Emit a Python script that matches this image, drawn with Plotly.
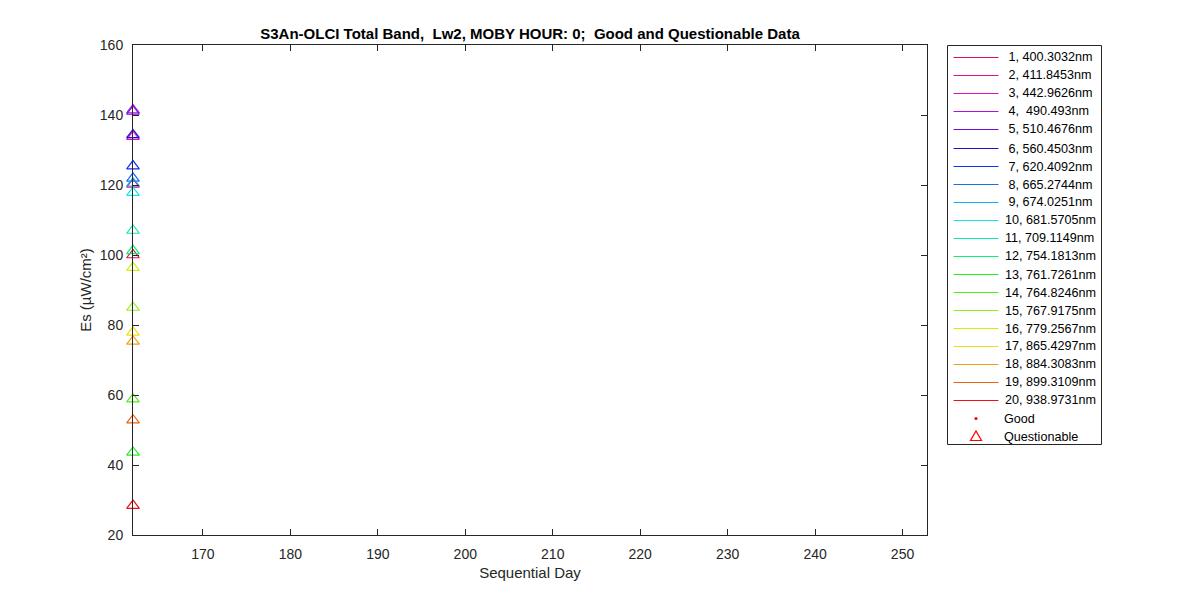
import plotly.graph_objects as go

bands = list(range(1, 21))
wavelengths = ["400.3032", "411.8453", "442.9626", " 490.493", "510.4676", "560.4503",
               "620.4092", "665.2744", "674.0251", "681.5705", "709.1149", "754.1813",
               "761.7261", "764.8246", "767.9175", "779.2567", "865.4297", "884.3083",
               "899.3109", "938.9731"]
es_values = [100.0, 120.2, 133.8, 141.4, 141.0, 134.3, 125.4, 121.9, 120.5, 117.8,
             107.0, 101.2, 43.6, 58.8, 85.0, 96.4, 77.9, 75.3, 52.8, 28.4]
band_colors = ["#E0105A", "#E01090", "#E010C8", "#B010E0", "#7010E0", "#2010D0",
               "#1030F0", "#1070F0", "#10B0F0", "#10E8E8", "#10E8B0", "#10F070",
               "#20F020", "#50F010", "#90F010", "#D0F010", "#F0E010", "#F0A010",
               "#F06010", "#F01010"]
day = 162.0
x_ticks = [170, 180, 190, 200, 210, 220, 230, 240, 250]
y_ticks = [20, 40, 60, 80, 100, 120, 140, 160]

FONT = "Liberation Sans, Arial, sans-serif"
AX = "#262626"
NB = "\u00a0"

# figure geometry (pixels)
W, H = 1200, 600
ML, MR, MT, MB = 125, 281, 37, 73
PL, PR, PT, PB = ML, W - MR, MT, H - MB


def px(x):
    return (x - PL) / (PR - PL)


def py(y):
    return (PB - y) / (PB - PT)


labels = [f"{b:2d}, {wl}nm".replace(" ", NB) for b, wl in zip(bands, wavelengths)]

fig = go.Figure()

# Questionable data points, one per band
for b, lab, v, c in zip(bands, labels, es_values, band_colors):
    fig.add_trace(go.Scatter(
        x=[day], y=[v], mode="markers", name=lab,
        marker=dict(symbol="triangle-up-open", size=11, color=c, line=dict(width=1.2)),
        showlegend=False, cliponaxis=False,
    ))

# ---- legend drawn by hand (to match MATLAB spacing) ----
shapes = []
annotations = []
box_l, box_r, box_t, box_b = 939.5, 1093.5, 37.5, 436.5
shapes.append(dict(type="rect", xref="paper", yref="paper",
                   x0=px(box_l), x1=px(box_r), y0=py(box_t), y1=py(box_b),
                   line=dict(color=AX, width=1), fillcolor="white", layer="below"))

row0, row_h = 49.3, 18.04
line_x0, line_x1, text_x = 945.5, 990.5, 995
for i, (lab, c) in enumerate(zip(labels, band_colors)):
    yc = round(row0 + row_h * i) + 0.5
    shapes.append(dict(type="line", xref="paper", yref="paper",
                       x0=px(line_x0), x1=px(line_x1), y0=py(yc), y1=py(yc),
                       line=dict(color=c, width=1), layer="above"))
    annotations.append(dict(xref="paper", yref="paper", x=px(text_x), y=py(yc),
                            xanchor="left", yanchor="middle", text=lab, showarrow=False,
                            font=dict(size=12.6, color="#000000", family=FONT)))

mk_x = 968
extra = ["Good", "Questionable"]
for j, lab in enumerate(extra):
    yc = round(row0 + row_h * (20 + j)) + 0.5
    annotations.append(dict(xref="paper", yref="paper", x=px(text_x - 1), y=py(yc),
                            xanchor="left", yanchor="middle", text=lab, showarrow=False,
                            font=dict(size=12.6, color="#000000", family=FONT)))
    if lab == "Good":
        shapes.append(dict(type="circle", xref="paper", yref="paper",
                           xsizemode="pixel", ysizemode="pixel",
                           xanchor=px(mk_x), yanchor=py(yc),
                           x0=-1.6, x1=1.6, y0=-1.6, y1=1.6,
                           fillcolor="#FF0000", line=dict(width=0), layer="above"))
    else:
        shapes.append(dict(type="path", xref="paper", yref="paper",
                           xsizemode="pixel", ysizemode="pixel",
                           xanchor=px(mk_x), yanchor=py(yc),
                           path="M-5.5,-4 L5.5,-4 L0,5.5 Z",
                           line=dict(color="#FF0000", width=1.2), layer="above"))

fig.update_layout(
    width=W, height=H,
    paper_bgcolor="white", plot_bgcolor="white",
    margin=dict(l=ML, r=MR, t=MT, b=MB),
    font=dict(family=FONT, size=14, color=AX),
    title=dict(
        text=f"<b>S3An-OLCI Total Band,{NB}{NB}Lw2, MOBY HOUR: 0;{NB}{NB}Good and Questionable Data</b>",
        x=(PL + PR) / 2 / W, xanchor="center",
        y=1 - 26 / H, yanchor="middle",
        font=dict(size=15, color="#000000", family=FONT),
    ),
    showlegend=False,
    shapes=shapes,
    annotations=annotations,
)

fig.layout.xaxis.update(
    range=[162.0, 252.8], tickvals=x_ticks, ticks="inside", ticklen=6,
    showline=True, linecolor=AX, linewidth=1, mirror="ticks",
    showgrid=False, zeroline=False, tickcolor=AX, ticklabelstandoff=6,
    title=dict(text="Sequential Day", font=dict(size=15, color=AX), standoff=6),
    tickfont=dict(size=14, color=AX),
)
fig.layout.yaxis.update(
    range=[20, 160], tickvals=y_ticks, ticks="inside", ticklen=6,
    showline=True, linecolor=AX, linewidth=1, mirror="ticks",
    showgrid=False, zeroline=False, tickcolor=AX, ticklabelstandoff=6,
    title=dict(text="Es (µW/cm²)", font=dict(size=15, color=AX), standoff=4),
    tickfont=dict(size=14, color=AX),
)

fig.write_html("out.html")
